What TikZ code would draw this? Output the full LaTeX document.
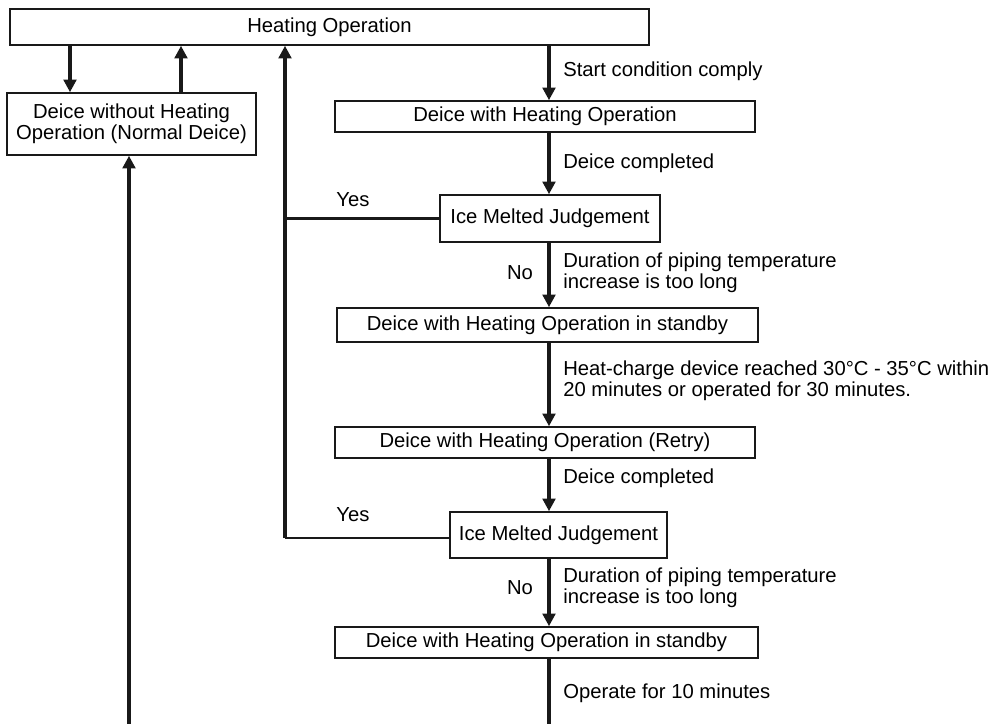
\documentclass[tikz,border=0pt]{standalone}
\usepackage{fontspec}
\setmainfont{Liberation Sans}
\usepackage{tikz}
\usetikzlibrary{arrows.meta,calc}

\begin{document}
\begin{tikzpicture}[x=0.025cm,y=-0.025cm,
  font=\fontsize{14.4}{15.2}\selectfont,
  box/.style={draw=black!90,line width=1.1pt,inner sep=0pt,minimum height=0.775cm},
  arr/.style={draw=black!90,line width=2.6pt,-{Triangle[length=9pt,width=9pt]}},
  yesline/.style={draw=black!90,line width=2pt},
  lbl/.style={anchor=west,inner sep=0pt,align=left},
]
\useasboundingbox (0,0) rectangle (996,724);
\coordinate (col) at (549,0);

% boxes
\node[box,minimum width=15.975cm,minimum height=0.9cm] (heat) at (329.5,27) {Heating Operation};
\node[box,minimum width=6.225cm,minimum height=1.55cm,align=center] (normal) at (131.5,124)
  {Deice without Heating\\Operation (Normal Deice)};
\node[box,minimum width=10.5cm] (dwh) at (545,116.5) {Deice with Heating Operation};
\node[box,minimum width=5.5cm,minimum height=1.175cm] (imja) at (550,218.5) {Ice Melted Judgement};
\node[box,minimum width=10.525cm,minimum height=0.85cm] (stba) at (547.5,325) {Deice with Heating Operation in standby};
\node[box,minimum width=10.5cm] (retry) at (545,442.5) {Deice with Heating Operation (Retry)};
\node[box,minimum width=5.425cm,minimum height=1.15cm] (imjb) at (558.5,535) {Ice Melted Judgement};
\node[box,minimum width=10.575cm] (stbb) at (546.5,642.5) {Deice with Heating Operation in standby};

% labels
\node[lbl] (lstart) at (563,71) {Start condition comply};
\node[lbl] (ldonea) at (563,163) {Deice completed};
\node[lbl] (ldura) at (563,273) {Duration of piping temperature\\increase is too long};
\node[lbl] (lheat) at (563,381) {Heat-charge device reached 30°C - 35°C within\\20 minutes or operated for 30 minutes.};
\node[lbl] (ldoneb) at (563,478) {Deice completed};
\node[lbl] (ldurb) at (563,588) {Duration of piping temperature\\increase is too long};
\node[lbl] (loper) at (563,693) {Operate for 10 minutes};
\node (yesa) at (353,200) {Yes};
\node (yesb) at (353,515) {Yes};
\node (noa) at (520,273) {No};
\node (nob) at (520,588) {No};

% main column
\draw[arr] (heat.south -| col) -- (dwh.north -| col);
\draw[arr] (dwh.south -| col) -- (imja.north -| col);
\draw[arr] (imja.south -| col) -- (stba.north -| col);
\draw[arr] (stba.south -| col) -- (retry.north -| col);
\draw[arr] (retry.south -| col) -- (imjb.north -| col);
\draw[arr] (imjb.south -| col) -- (stbb.north -| col);
\coordinate (endr) at (549,724);
\draw[yesline,line width=2.6pt] (stbb.south -| col) -- (endr);

% left side
\draw[arr] (heat.south -| 70,0) -- (normal.north -| 70,0);
\draw[arr] (normal.north -| 181,0) -- (heat.south -| 181,0);
\coordinate (endl) at (129,724);
\draw[arr] (endl) -- (normal.south -| endl);

% yes returns
\coordinate (joina) at (285,218.5);
\coordinate (joinb) at (285,538);
\draw[yesline] (imja.west) -- (joina);
\draw[yesline] (imjb.west |- joinb) -- (joinb);
\draw[arr] (joinb) -- (heat.south -| joinb);
\end{tikzpicture}
\end{document}
